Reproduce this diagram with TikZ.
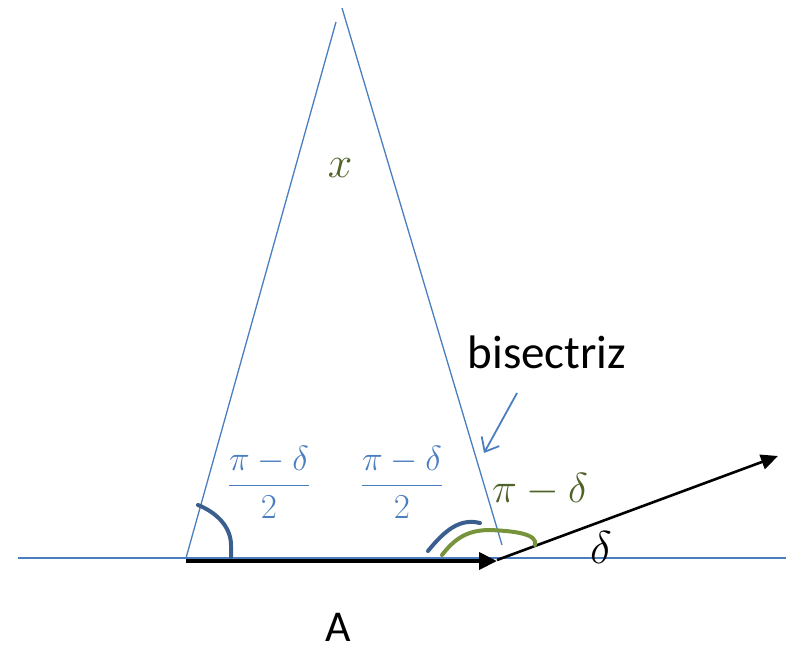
\RequirePackage{fix-cm}
\documentclass[tikz,border=0pt]{standalone}
\usepackage{fontspec}
\setmainfont{Carlito}
\usetikzlibrary{arrows.meta}
\definecolor{lblue}{HTML}{4A7EBF}
\definecolor{dblue}{HTML}{3A5F8F}
\definecolor{lgreen}{HTML}{77933C}
\definecolor{dgreen}{HTML}{4F6228}
\tikzset{
  thinline/.style={lblue, line width=1.3pt},
  arcdb/.style={dblue, line width=4pt, line cap=round},
  arcgr/.style={lgreen, line width=4pt, line cap=round},
  lbl/.style={inner sep=0pt, anchor=center},
}
\begin{document}
\begin{tikzpicture}[x=1pt,y=-1pt]
\useasboundingbox (0,0) rectangle (786,649);
% key points
\coordinate (L0) at (18,558);
\coordinate (L1) at (786,558);
\coordinate (P) at (186,558);
\coordinate (Ltop) at (336,22);
\coordinate (Rtop) at (342,8);
\coordinate (Rbot) at (502,545);
\coordinate (Q) at (497,561);
\coordinate (Qs) at (186,561);
\coordinate (V) at (778,456);
\coordinate (Bs) at (517,393);
\coordinate (Be) at (484,453);
% lines
\draw[thinline] (L0) -- (L1);
\draw[thinline] (P) -- (Ltop);
\draw[thinline] (Rtop) -- (Rbot);
\draw[black, line width=4pt, -{Triangle[length=18pt,width=17pt]}] (Qs) -- (Q);
\draw[black, line width=2.6pt, -{Triangle[length=17pt,width=15pt]}] (497,560) -- (V);
\draw[lblue, line width=1.8pt, -{Straight Barb[length=12pt,width=20pt]}] (Bs) -- (Be);
% arcs
\draw[arcdb] (198,505) .. controls (218,513) and (231,528) .. (231,545) -- (231,557);
\draw[arcdb] (428,551) .. controls (445,530) and (460,518) .. (480,523);
\draw[arcgr] (442,555) .. controls (455,538) and (468,530) .. (490,530) .. controls (515,531) and (538,534) .. (535,545);
% labels
\node[lbl, text=dgreen, font=\fontsize{44}{52}\selectfont] (x) at (340,168) {$x$};
\node[lbl, text=black, font=\fontsize{47}{56}\selectfont] (bis) at (547,352) {bisectriz};
\node[lbl, text=lblue, font=\fontsize{35}{42}\selectfont] (f1) at (269,482) {$\displaystyle\frac{\pi-\delta}{2}$};
\node[lbl, text=lblue, font=\fontsize{35}{42}\selectfont] (f2) at (402,482) {$\displaystyle\frac{\pi-\delta}{2}$};
\node[lbl, text=dgreen, font=\fontsize{42}{50}\selectfont] (pd) at (540,490) {$\pi-\delta$};
\node[lbl, text=black, font=\fontsize{46}{54}\selectfont] (d) at (601,548) {$\delta$};
\node[lbl, text=black, font=\fontsize{44}{52}\selectfont] (A) at (338,627) {A};
\end{tikzpicture}
\end{document}
